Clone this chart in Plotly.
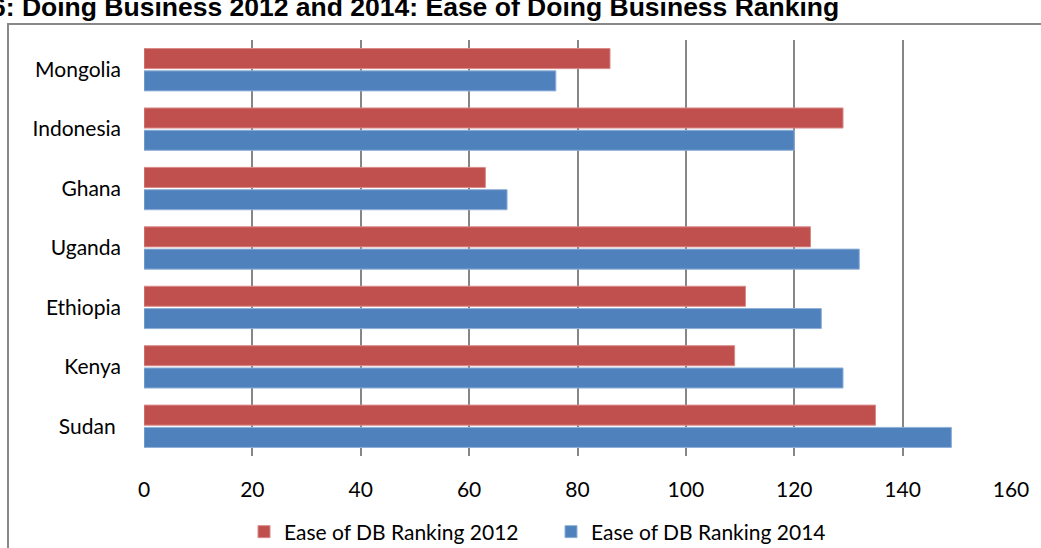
import plotly.graph_objects as go

COUNTRIES = ["Mongolia", "Indonesia", "Ghana", "Uganda", "Ethiopia", "Kenya", "Sudan "]
RANK_2012 = [86, 129, 63, 123, 111, 109, 135]
RANK_2014 = [76, 120, 67, 132, 125, 129, 149]
X_TICKS = [0, 20, 40, 60, 80, 100, 120, 140, 160]

RED = "#C0504D"
BLUE = "#4F81BD"
GRID = "#868686"
FONT = "Lato"

# plot area in pixels
W, H = 1041, 548
L, R, T, B = 144, 30, 40, 92
PW, PH = W - L - R, H - T - B


def px_to_paper_x(px):
    return (px - L) / PW


def px_to_paper_y(py):
    return 1 - (py - T) / PH


fig = go.Figure()
fig.add_trace(
    go.Bar(
        y=COUNTRIES,
        x=RANK_2012,
        orientation="h",
        name="Ease of DB Ranking 2012",
        marker=dict(color=RED, line=dict(color="#D98A88", width=1)),
    )
)
fig.add_trace(
    go.Bar(
        y=COUNTRIES,
        x=RANK_2014,
        orientation="h",
        name="Ease of DB Ranking 2014",
        marker=dict(color=BLUE, line=dict(color="#8FB0D8", width=1)),
    )
)

fig.update_layout(
    width=W,
    height=H,
    margin=dict(l=L, r=R, t=T, b=B, autoexpand=False),
    paper_bgcolor="white",
    plot_bgcolor="white",
    barmode="group",
    bargap=0.25,
    bargroupgap=0.1,
    font=dict(family=FONT, size=21, color="black"),
    showlegend=True,
    legend=dict(
        orientation="h",
        x=px_to_paper_x(244),
        xanchor="left",
        y=px_to_paper_y(532),
        yanchor="middle",
        font=dict(size=21),
        itemwidth=30,
        entrywidth=262,
        traceorder="normal",
    ),
    xaxis=dict(
        range=[0, 160],
        tickvals=X_TICKS,
        showgrid=True,
        gridcolor=GRID,
        gridwidth=1.5,
        zeroline=False,
        showline=False,
        ticks="",
        ticklabelstandoff=19,
        fixedrange=True,
    ),
    yaxis=dict(
        autorange="reversed",
        showgrid=False,
        zeroline=False,
        showline=False,
        ticks="",
        ticklabelstandoff=22,
        fixedrange=True,
    ),
    shapes=[
        dict(
            type="rect",
            xref="paper",
            yref="paper",
            x0=px_to_paper_x(8),
            x1=px_to_paper_x(1100),
            y0=px_to_paper_y(600),
            y1=px_to_paper_y(24),
            line=dict(color="#888888", width=2),
            layer="below",
        )
    ],
    annotations=[
        dict(
            text="<b>6: Doing Business 2012 and 2014: Ease of Doing Business Ranking</b>",
            xref="paper",
            yref="paper",
            x=px_to_paper_x(-11),
            y=px_to_paper_y(24),
            xanchor="left",
            yanchor="bottom",
            showarrow=False,
            font=dict(family="Liberation Sans", size=26.5, color="black"),
        )
    ],
)

fig.write_html(
    "out.html",
    config={"displayModeBar": False},
    post_script="document.body.style.margin='0';",
)
